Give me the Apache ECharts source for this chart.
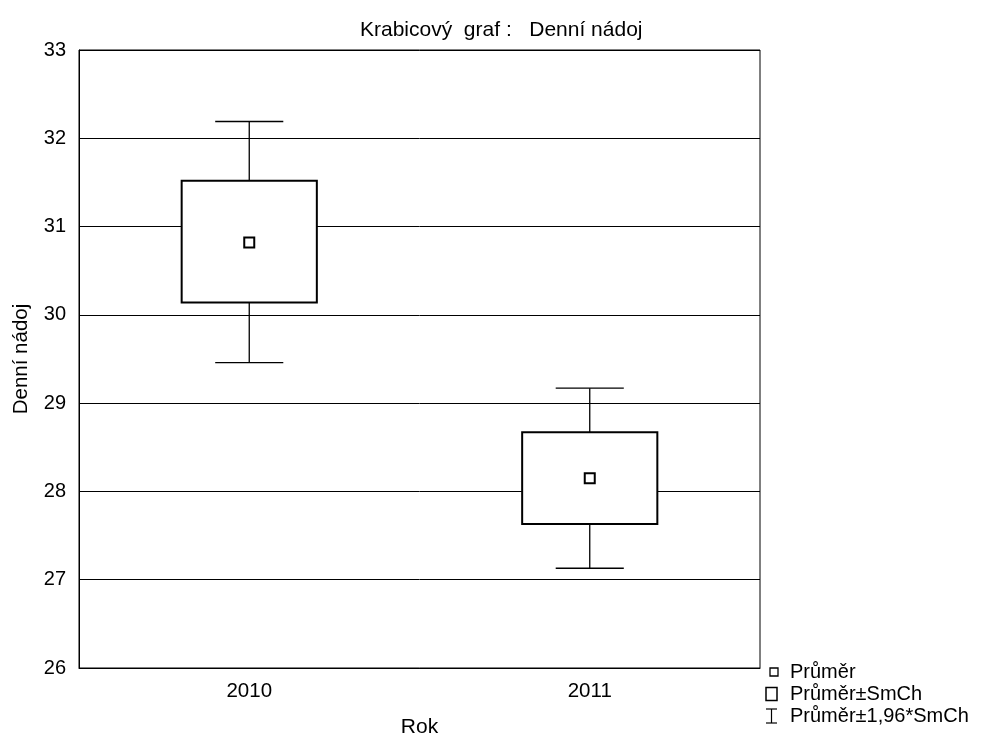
<!DOCTYPE html>
<html>
<head>
<meta charset="utf-8">
<script src="https://cdn.jsdelivr.net/npm/echarts@6/dist/echarts.min.js"></script>
<style>html,body{margin:0;padding:0;background:#fff}#c{width:982px;height:738px}</style>
</head>
<body>
<div id="c"></div>
<script>
var categories = ['2010', '2011'];
var means = [30.82, 28.15];
var seLow = [30.14, 27.63];
var seHigh = [31.52, 28.67];
var ciLow = [29.46, 27.13];
var ciHigh = [32.19, 29.17];
var yTicks = [26, 27, 28, 29, 30, 31, 32, 33];
var legendLabels = ['Průměr', 'Průměr±SmCh', 'Průměr±1,96*SmCh'];

var FONT = '"Liberation Sans", Arial, sans-serif';
var data = categories.map(function (c, i) {
  return [i, ciLow[i], seLow[i], means[i], seHigh[i], ciHigh[i]];
});

var chart = echarts.init(document.getElementById('c'), null, {renderer: 'canvas'});

function renderItem(params, api) {
  var x = api.value(0);
  var band = api.size([1, 0])[0];
  var pLoCI = api.coord([x, api.value(1)]);
  var pLoSE = api.coord([x, api.value(2)]);
  var pMean = api.coord([x, api.value(3)]);
  var pHiSE = api.coord([x, api.value(4)]);
  var pHiCI = api.coord([x, api.value(5)]);
  var cx = pMean[0];
  var boxW = band * 0.397;
  var capW = band * 0.2;
  var ls = {stroke: '#000', lineWidth: 1.3};
  return {
    type: 'group',
    children: [
      {type: 'line', shape: {x1: cx, y1: pHiCI[1], x2: cx, y2: pLoCI[1]}, style: ls},
      {type: 'line', shape: {x1: cx - capW / 2, y1: pHiCI[1], x2: cx + capW / 2, y2: pHiCI[1]}, style: ls},
      {type: 'line', shape: {x1: cx - capW / 2, y1: pLoCI[1], x2: cx + capW / 2, y2: pLoCI[1]}, style: ls},
      {type: 'rect', shape: {x: cx - boxW / 2, y: pHiSE[1], width: boxW, height: pLoSE[1] - pHiSE[1]},
        style: {fill: '#fff', stroke: '#000', lineWidth: 2}},
      {type: 'rect', shape: {x: cx - 5, y: pMean[1] - 5, width: 10, height: 10},
        style: {fill: '#fff', stroke: '#000', lineWidth: 2}}
    ]
  };
}

var legendX = 790;
var legendY = [672, 694, 716];

var option = {
  animation: false,
  backgroundColor: '#fff',
  title: {
    text: 'Krabicový  graf :   Denní nádoj',
    left: 355,
    top: 15,
    textStyle: {fontFamily: FONT, fontSize: 21, fontWeight: 'normal', color: '#000'}
  },
  grid: {left: 79, right: 222, top: 50, bottom: 70, show: true, borderColor: '#000', borderWidth: 1,
    containLabel: false, outerBoundsMode: 'none'},
  xAxis: {
    type: 'category',
    data: categories,
    boundaryGap: true,
    name: 'Rok',
    nameLocation: 'middle',
    nameGap: 49,
    nameTextStyle: {fontFamily: FONT, fontSize: 21, color: '#000'},
    axisLine: {show: true, lineStyle: {color: '#000', width: 1}},
    axisTick: {show: false},
    axisLabel: {fontFamily: FONT, fontSize: 20.5, color: '#000', margin: 13},
    splitLine: {show: false}
  },
  yAxis: {
    type: 'value',
    min: yTicks[0],
    max: yTicks[yTicks.length - 1],
    interval: 1,
    name: 'Denní nádoj',
    nameLocation: 'middle',
    nameGap: 47,
    nameTextStyle: {fontFamily: FONT, fontSize: 20.5, color: '#000'},
    axisLine: {show: true, lineStyle: {color: '#000', width: 1}},
    axisTick: {show: false},
    axisLabel: {fontFamily: FONT, fontSize: 20, color: '#000', margin: 13},
    splitLine: {show: true, lineStyle: {color: '#000', width: 1}}
  },
  series: [{
    type: 'custom',
    name: 'Denní nádoj',
    renderItem: renderItem,
    encode: {x: 0, y: [1, 2, 3, 4, 5]},
    data: data,
    z: 5
  }],
  graphic: [
    {type: 'rect', shape: {x: 770, y: legendY[0] - 4, width: 8, height: 8}, style: {fill: '#fff', stroke: '#000', lineWidth: 1.3}},
    {type: 'rect', shape: {x: 766, y: legendY[1] - 6.5, width: 11, height: 13}, style: {fill: '#fff', stroke: '#000', lineWidth: 1.5}},
    {type: 'line', shape: {x1: 766, y1: legendY[2] - 7, x2: 777, y2: legendY[2] - 7}, style: {stroke: '#000', lineWidth: 1.2}},
    {type: 'line', shape: {x1: 771.5, y1: legendY[2] - 7, x2: 771.5, y2: legendY[2] + 7}, style: {stroke: '#000', lineWidth: 1.2}},
    {type: 'line', shape: {x1: 766, y1: legendY[2] + 7, x2: 777, y2: legendY[2] + 7}, style: {stroke: '#000', lineWidth: 1.2}},
    {type: 'text', x: legendX, y: legendY[0], style: {text: legendLabels[0], font: '20px ' + FONT, fill: '#000', textVerticalAlign: 'middle'}},
    {type: 'text', x: legendX, y: legendY[1], style: {text: legendLabels[1], font: '20px ' + FONT, fill: '#000', textVerticalAlign: 'middle'}},
    {type: 'text', x: legendX, y: legendY[2], style: {text: legendLabels[2], font: '20px ' + FONT, fill: '#000', textVerticalAlign: 'middle'}}
  ]
};
chart.setOption(option);
</script>
</body>
</html>
